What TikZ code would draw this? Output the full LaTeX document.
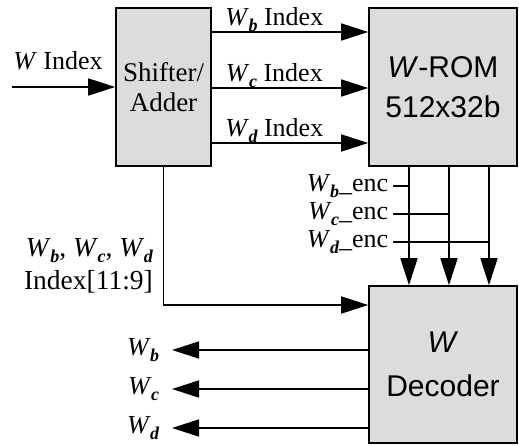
\documentclass[tikz,border=0pt]{standalone}
\usepackage{fontspec}
\setmainfont{Liberation Serif}
\newfontfamily\romfont{Liberation Sans}
\usetikzlibrary{arrows.meta}
\definecolor{boxgray}{RGB}{220,220,220}
\newcommand{\Wsub}[1]{\textit{W}\kern-0.5pt\raisebox{-0.2em}{\fontsize{18}{18}\selectfont\bfseries\itshape #1}}

\begin{document}
\begin{tikzpicture}[x=1pt, y=-1pt,
	blk/.style={draw, line width=1.6pt, fill=boxgray, inner sep=0pt, align=center},
	wire/.style={line width=1.6pt},
	arr/.style={wire, -{Triangle[length=27pt,width=17pt]}},
	lbl/.style={font=\fontsize{26}{33}\selectfont, inner sep=2pt}]
	\useasboundingbox (0,0) rectangle (519,445);
	\node[blk, minimum width=95pt, minimum height=158pt, font=\fontsize{27}{30}\selectfont] (shift) at (163.5,87) {Shifter/\\Adder};
	\node[blk, minimum width=148pt, minimum height=158pt, font=\romfont\fontsize{30}{40}\selectfont] (rom) at (443,87) {\textit{W}-ROM\\512x32b};
	\node[blk, minimum width=148pt, minimum height=157pt, font=\romfont\fontsize{30}{44}\selectfont] (dec) at (443,364.5) {\textit{W}\\Decoder};
	\coordinate (win) at (12,87);
	\draw[arr] (win) -- (shift.west);
	\node[lbl, anchor=south] (wlab) at (58,72) {\textit{W} Index};
	\foreach \y/\s in {32/b,88/c,143/d}{
		\draw[arr] (shift.east |- 0,\y) -- (rom.west |- 0,\y) node[lbl, pos=0.4, above, yshift=-2pt] {\Wsub{\s} Index};
	}
	\foreach \x in {409,449,489}
		\draw[arr] (rom.south -| \x,0) -- (dec.north -| \x,0);
	\foreach \x/\y/\s in {409/186/b,449/214/c,489/242/d}
		\draw[wire] (\x,\y) -- (393,\y) node[lbl, left, xshift=-2pt] {\Wsub{\s}\_enc};
	\draw[arr] (shift.south) |- (dec.west |- 0,305);
	\node[lbl, anchor=east, align=right, font=\fontsize{27.5}{33}\selectfont] (idxlab) at (155,266) {\Wsub{b}, \Wsub{c}, \Wsub{d}\\Index[11:9]};
	\foreach \y/\s in {350/b,389/c,428/d}
		\draw[arr] (dec.west |- 0,\y) -- (172,\y) node[lbl, left=10pt] {\Wsub{\s}};
\end{tikzpicture}
\end{document}
